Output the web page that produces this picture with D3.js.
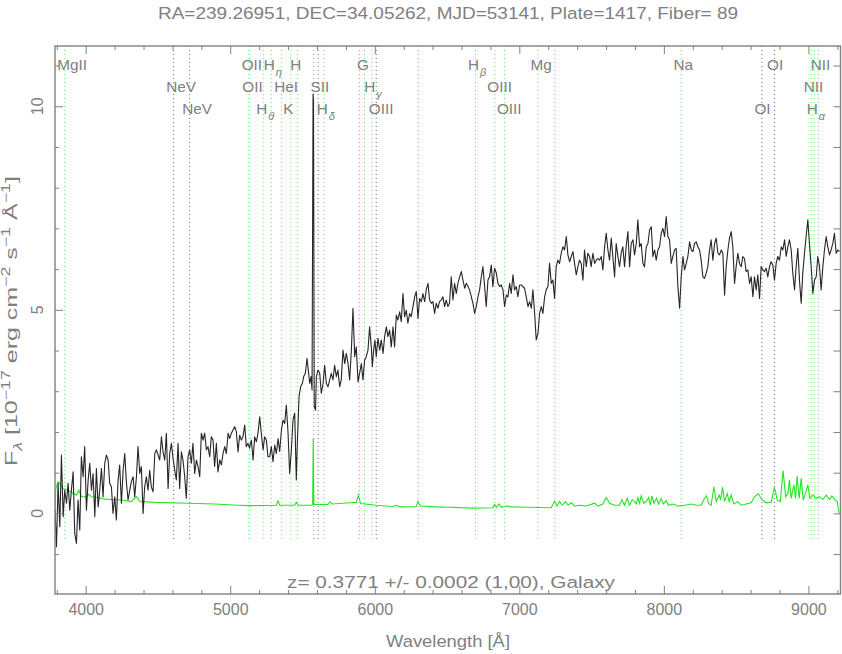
<!DOCTYPE html>
<html><head><meta charset="utf-8">
<script src="https://cdn.jsdelivr.net/npm/d3@7"></script>
<style>
body{margin:0;background:#fff;}
svg text{font-family:"Liberation Sans",Arial,sans-serif;fill:#808080;}
</style></head><body>
<svg id="chart" width="842" height="654"></svg>
<script>
// ---------- data ----------
const titleText = "RA=239.26951, DEC=34.05262, MJD=53141, Plate=1417, Fiber= 89";
const zText = "z= 0.3771 +/- 0.0002 (1,00), Galaxy";
const redshift = 0.3771;
const xTicks = [4000,5000,6000,7000,8000,9000];
const yTicks = [0,5,10];

const specWave = [3788,3798,3809,3821,3832,3844,3855,3867,3878,3890,3901,3913,3924,3936,3947,3959,3970,3982,3993,4005,
4017,4028,4040,4051,4063,4074,4086,4097,4109,4120,4132,4143,4155,4166,4178,4189,4201,4212,4224,4235,
4247,4259,4270,4282,4293,4305,4316,4328,4339,4351,4362,4374,4385,4397,4408,4420,4431,4443,4454,4466,
4478,4489,4501,4512,4524,4535,4547,4558,4570,4581,4593,4604,4616,4627,4639,4650,4662,4673,4685,4696,
4708,4719,4731,4742,4754,4766,4777,4789,4800,4812,4823,4835,4846,4858,4869,4881,4892,4904,4915,4927,
4939,4950,4962,4973,4985,4996,5008,5019,5031,5042,5054,5065,5077,5088,5100,5111,5123,5134,
5135,5146,5158,5169,5181,5192,5204,5215,5227,5238,5250,5261,5273,5284,5296,5308,5319,5331,5342,5354,
5365,5377,5388,5400,5411,5423,5434,5446,5457,5464,5476,5487,5499,5508,5520,5531,5540,5550,5559,5566,
5573,5576,5581,5590,5596,5607,5619,5630,5642,5653,5665,5676,5688,5699,5711,5722,5734,5745,5757,5768,
5780,5792,5803,5815,5826,5838,5849,5861,5872,5884,5895,5907,5918,5930,5941,5953,5964,5976,5983,5992,
6001,6010,6022,6034,6045,6057,6068,6080,6091,6103,6114,6126,6137,6149,6160,6172,6183,6195,6206,6218,
6229,6241,6252,6264,6276,6287,6299,6310,6322,6333,6345,6356,6368,6379,6391,6402,6414,6425,6437,6448,
6460,6471,6483,6494,6506,6517,
6529,6541,6552,6564,6575,6587,6599,6610,6622,6633,6645,6656,6668,6679,6691,6702,6714,6725,6737,6748,
6760,6771,6783,6794,6806,6817,6829,6841,6852,6864,6875,6887,6898,6910,6921,6933,6944,6956,6967,6979,
6990,7002,7013,7025,7036,7048,7060,7071,7083,7094,7106,7117,7129,7140,7152,7163,7175,7186,7198,7209,
7221,7232,7244,7255,7267,7278,7290,7302,7313,7325,7336,7348,7359,7371,7382,7394,7405,7417,7428,7440,
7451,7463,7474,7486,7497,7509,7521,7532,7544,7555,7567,7578,7590,7601,7613,7624,7636,7647,7659,7670,
7682,7693,7705,7716,7728,7739,7751,7763,7774,7786,
7797,7809,7820,7832,7843,7855,7866,7878,7890,7901,7913,7924,7936,7947,7959,7970,7982,7993,8005,8016,
8028,8039,8051,8062,8074,8085,8097,8109,8120,8132,8143,8155,8166,8178,8189,8201,8212,8224,8235,8247,
8258,8270,8281,8293,8304,8316,8327,8339,8351,8362,8374,8385,8397,8408,8420,8431,8443,8454,8466,8477,
8489,8500,8512,8523,8535,8546,8558,8569,8581,8593,8604,8616,8627,8639,8650,8662,8673,8685,8696,8708,
8719,8731,8742,8754,8765,8777,8788,8800,8812,8823,8835,8846,8858,8869,8881,8892,8904,8915,8927,8938,
8950,8961,8973,8984,8996,9007,9019,9031,9042,9054,9065,9077,9088,9100,9111,9123,9134,9146,9157,9169,
9180,9192,9203,9215];
const specFlux = [0.08,-0.82,0.74,-0.33,1.43,-0.08,0.57,0.25,0.74,0.08,0.57,1.02,-0.49,-0.74,0.33,-0.41,1.39,0.90,1.64,0.08,
0.82,1.23,0.57,0.98,-0.08,1.10,0.16,0.57,1.10,0.41,1.23,1.43,1.31,0.74,0.65,0.00,0.41,-0.16,0.82,1.19,
0.25,1.06,1.47,0.74,0.33,0.57,0.78,0.90,0.41,0.90,1.64,0.98,1.15,0.00,0.65,0.90,0.57,1.06,0.65,0.53,
1.47,1.56,1.43,1.31,1.88,1.51,1.31,1.97,0.61,1.47,1.72,1.35,1.06,0.82,1.72,0.61,1.51,1.31,0.90,0.37,
1.39,1.56,1.23,1.72,0.98,1.31,1.15,0.90,1.97,1.80,1.97,1.56,1.64,1.39,1.88,1.80,1.15,1.72,1.02,1.31,
1.19,1.47,1.64,1.47,1.97,1.84,1.97,2.05,2.13,2.01,1.51,1.92,1.80,1.88,2.17,1.64,1.72,1.60,
1.64,1.80,1.31,1.88,1.76,1.97,2.37,1.97,1.56,1.88,1.80,1.39,1.39,1.64,1.27,1.68,1.47,1.84,1.52,2.05,
2.29,2.21,2.66,1.97,0.98,1.56,2.29,2.46,0.82,1.72,2.87,3.11,3.19,3.36,3.44,3.81,3.52,3.19,3.36,3.03,
10.3,10.1,2.62,2.54,3.36,3.52,3.44,2.95,3.19,3.64,3.19,3.11,3.28,3.44,3.28,3.64,3.36,3.52,3.11,3.28,
4.01,3.68,3.93,3.68,3.28,4.01,5.04,3.85,4.09,3.23,3.44,3.68,3.28,3.77,3.85,4.01,4.58,4.09,3.60,4.01,
4.26,3.85,4.30,4.01,4.26,3.93,4.34,4.58,4.34,4.50,4.09,4.58,4.09,4.87,4.75,4.95,4.71,5.40,4.83,4.99,
4.67,4.91,4.83,5.08,5.32,5.45,4.79,5.28,5.20,5.40,5.20,5.49,5.65,5.24,5.16,5.20,4.91,5.16,5.04,5.20,
5.24,5.32,5.08,5.24,5.08,5.16,
5.81,5.24,5.65,5.40,5.65,5.81,5.94,5.73,5.53,5.65,5.57,5.49,5.32,5.16,4.91,5.08,5.32,5.49,5.81,6.06,
5.57,5.08,5.73,5.81,6.10,5.57,6.02,5.90,5.65,5.57,5.61,5.49,5.08,5.36,5.32,5.65,5.40,5.86,5.49,5.57,
5.32,5.61,5.61,5.57,5.53,5.32,5.08,5.20,5.04,5.49,4.91,4.26,4.42,4.91,5.08,4.91,5.32,5.49,5.57,6.14,
5.65,5.73,5.28,6.06,6.22,6.14,6.39,6.55,6.47,6.80,6.35,6.18,6.31,6.43,6.14,5.86,6.06,6.22,6.14,5.73,
6.47,6.06,6.39,6.31,6.06,6.39,6.14,6.22,6.26,6.22,6.31,5.98,6.55,6.88,6.47,6.22,6.76,6.31,5.81,6.63,
6.31,6.06,6.39,6.55,6.06,6.55,6.92,6.06,6.63,6.72,
6.35,6.63,7.21,6.55,6.63,6.14,6.06,6.55,6.63,6.96,7.04,6.31,6.47,6.22,6.47,6.55,6.88,7.00,6.80,7.29,
6.80,6.72,6.14,6.31,6.47,6.51,5.57,5.04,5.81,6.31,5.98,6.14,6.31,6.67,6.47,6.43,6.63,6.67,6.55,6.47,
6.22,5.81,5.77,5.90,6.06,6.47,6.72,6.22,6.63,6.76,6.39,6.35,6.47,6.39,5.36,6.06,6.47,6.76,6.92,6.55,
5.65,6.06,6.39,6.14,6.06,6.31,6.26,5.94,5.98,5.65,5.81,5.32,5.81,5.49,5.86,5.28,6.06,5.98,5.94,6.02,
5.81,6.06,6.18,6.10,5.73,6.14,6.31,6.22,6.55,6.47,6.72,6.31,6.55,6.72,6.47,5.90,5.49,6.06,6.51,5.73,
5.16,5.90,6.39,6.80,7.21,6.63,6.06,5.40,5.73,5.81,6.31,6.06,5.49,6.06,6.47,6.80,6.55,6.35,6.47,6.63,
6.88,6.39,6.47,6.43];

const errWave = [3788,3793,3809,3844,3878,3913,3936,3952,3970,4005,4017,4040,4086,4132,4247,4316,4351,4374,4478,4708,
4892,5054,5134,5319,5331,5342,5446,5457,5469,5561,5570,5574,5578,5676,5688,5706,5826,5872,5886,5902,
6010,6126,6149,6172,6287,6299,6315,6425,6517,6679,6817,6829,6841,6859,6875,6910,6944,7048,7221,7244,
7260,7278,7297,7320,7338,7361,7382,7417,7463,7521,7544,7578,7601,7624,7659,7693,7709,7728,7746,7763,
7781,7797,7809,7820,7832,7843,7860,7878,7894,7906,7917,7931,7949,7963,7982,7996,8016,8032,8062,8097,
8143,8189,8224,8258,8281,8295,8309,8327,8346,8362,8383,8392,8406,8420,8438,8452,8466,8484,8512,8535,
8569,8604,8627,8655,8678,8708,8742,8765,8784,8805,8825,8842,8858,8869,8881,8899,8911,8922,8936,8950,
8964,8980,8996,9010,9031,9054,9077,9100,9123,9146,9162,9185,9199,9213];
const errFlux = [0.00,0.61,0.78,0.61,0.57,0.49,0.45,0.57,0.41,0.41,0.47,0.41,0.39,0.35,0.33,0.29,0.41,0.30,0.27,0.25,
0.23,0.20,0.19,0.20,0.31,0.20,0.20,0.27,0.20,0.20,0.21,1.84,0.22,0.22,0.28,0.23,0.26,0.27,0.45,0.24,
0.20,0.17,0.20,0.16,0.17,0.30,0.18,0.16,0.15,0.13,0.14,0.22,0.15,0.23,0.15,0.18,0.16,0.15,0.14,0.30,
0.18,0.29,0.20,0.29,0.20,0.26,0.18,0.20,0.18,0.25,0.18,0.23,0.39,0.25,0.20,0.20,0.34,0.20,0.37,0.20,
0.34,0.29,0.23,0.39,0.25,0.43,0.25,0.29,0.39,0.20,0.43,0.25,0.37,0.23,0.37,0.23,0.31,0.20,0.23,0.18,
0.20,0.23,0.20,0.20,0.37,0.43,0.25,0.20,0.65,0.29,0.45,0.33,0.64,0.29,0.49,0.29,0.45,0.23,0.29,0.20,
0.23,0.26,0.41,0.48,0.33,0.26,0.28,0.64,0.33,0.29,1.05,0.41,0.49,0.82,0.37,0.70,0.37,0.92,0.37,0.86,
0.33,0.49,0.70,0.37,0.45,0.37,0.41,0.34,0.45,0.34,0.43,0.33,0.29,0.00];

// spectral line markers (rest wavelengths, label, label row, colour class)
const lineLabel = ["MgII","NeV","NeV","OII","OII","H_θ","H_η","HeI","K","H","SII","H_δ","G","H_γ","OIII","H_β","OIII","OIII","Mg","Na","OI","OI","NII","H_α","NII"];
const lineRest  = [2799.49,3346.79,3426.85,3726.03,3728.82,3798.98,3836.47,3889.0,3934.78,3969.59,4072.3,4102.89,4305.61,4341.68,4364.44,4862.68,4960.30,5008.24,5176.7,5895.6,6302.05,6365.54,6549.86,6564.61,6585.27];
const lineRow   = [0,1,2,0,1,2,0,1,2,0,1,2,0,1,2,0,1,2,0,0,2,0,1,2,0];
const lineKind  = ["g","k","k","g","g","g","g","g","g","g","k","g","g","g","k","g","g","g","g","g","k","k","g","g","g"];
const skyWave   = [5577,5893,6300,7246];
const markerBottom = -0.65;

// ---------- drawing ----------
const svg = d3.select("#chart");
const X0=55, X1=840.5, Y0=46, Y1=594;
const x = d3.scaleLinear().domain([3787.6, 9222]).range([X0, X1]);
const y = d3.scaleLinear().domain([-1.98, 11.48]).range([Y1, Y0]);
const AX = "#808080";
const kindColor = {g:"#55f055", k:"#6a6a6a"};

svg.append("defs").append("clipPath").attr("id","clip")
  .append("rect").attr("x",X0).attr("y",Y0).attr("width",X1-X0).attr("height",Y1-Y0);
const plot = svg.append("g").attr("clip-path","url(#clip)");

// sky lines
plot.selectAll(".sky").data(skyWave).join("line")
  .attr("x1",d=>x(d)).attr("x2",d=>x(d)).attr("y1",Y0).attr("y2",y(markerBottom))
  .attr("stroke","#ff66ff").attr("stroke-width",1).attr("stroke-dasharray","1,3");
// identified lines
const lineIdx = d3.range(lineRest.length);
plot.selectAll(".ln").data(lineIdx).join("line")
  .attr("x1",i=>x(lineRest[i]*(1+redshift))).attr("x2",i=>x(lineRest[i]*(1+redshift)))
  .attr("y1",Y0).attr("y2",y(markerBottom))
  .attr("stroke",i=>kindColor[lineKind[i]]).attr("stroke-width",1).attr("stroke-dasharray","1,3");

// error spectrum (green)
const errLine = d3.line().x(i=>x(errWave[i])).y(i=>y(errFlux[i]));
plot.append("path").attr("d",errLine(d3.range(errWave.length)))
  .attr("fill","none").attr("stroke","#22e622").attr("stroke-width",1.1);
// flux spectrum (black)
const specLine = d3.line().x(i=>x(specWave[i])).y(i=>y(specFlux[i]));
plot.append("path").attr("d",specLine(d3.range(specWave.length)))
  .attr("fill","none").attr("stroke","#262626").attr("stroke-width",1.1).attr("stroke-linejoin","round");

// line labels
const rowBase = [69.5, 91.5, 113.5];
const lab = svg.selectAll(".lab").data(lineIdx).join("text")
  .attr("x",i=>x(lineRest[i]*(1+redshift))-7.5).attr("y",i=>rowBase[lineRow[i]])
  .style("font-size","15.3px");
lab.each(function(i){
  const t = d3.select(this); const parts = lineLabel[i].split("_");
  t.append("tspan").text(parts[0]);
  if(parts.length>1) t.append("tspan").attr("dy",6).style("font-size","11px").style("font-style","italic").attr("dx",1).text(parts[1]);
});

// axes
function clean(g){ g.select(".domain").remove(); g.selectAll("line").attr("stroke",AX); }
const minorX = d3.range(3800, 9201, 200).filter(v=>v%1000!==0);
const minorY = d3.range(-1, 12, 1).filter(v=>v%5!==0);
svg.append("g").attr("transform",`translate(0,${Y1})`)
  .call(d3.axisBottom(x).tickValues(minorX).tickSizeInner(-4).tickSizeOuter(0).tickFormat("")).call(clean);
const bx = svg.append("g").attr("transform",`translate(0,${Y1})`)
  .call(d3.axisBottom(x).tickValues(xTicks).tickSizeInner(-8).tickSizeOuter(0).tickPadding(10).tickFormat(d3.format("d"))).call(clean);
bx.selectAll("text").attr("font-family",null).attr("font-size",null).style("font-size","16px").attr("dy","0.71em");
svg.append("g").attr("transform",`translate(0,${Y0})`)
  .call(d3.axisTop(x).tickValues(minorX).tickSizeInner(-4).tickSizeOuter(0).tickFormat("")).call(clean);
svg.append("g").attr("transform",`translate(0,${Y0})`)
  .call(d3.axisTop(x).tickValues(xTicks).tickSizeInner(-8).tickSizeOuter(0).tickFormat("")).call(clean);
svg.append("g").attr("transform",`translate(${X0},0)`)
  .call(d3.axisLeft(y).tickValues(minorY).tickSizeInner(-4).tickSizeOuter(0).tickFormat("")).call(clean);
svg.append("g").attr("transform",`translate(${X0},0)`)
  .call(d3.axisLeft(y).tickValues(yTicks).tickSizeInner(-8).tickSizeOuter(0).tickFormat("")).call(clean);
svg.append("g").attr("transform",`translate(${X1},0)`)
  .call(d3.axisRight(y).tickValues(d3.range(-1,12,1)).tickSizeInner(-7).tickSizeOuter(0).tickFormat("")).call(clean);
svg.append("rect").attr("x",X0).attr("y",Y0).attr("width",X1-X0).attr("height",Y1-Y0)
  .attr("fill","none").attr("stroke",AX).attr("stroke-width",1.4);

// y tick labels (rotated)
svg.selectAll(".ytl").data(yTicks).join("text")
  .attr("transform",d=>`translate(43,${y(d)}) rotate(-90)`)
  .attr("text-anchor","middle").style("font-size","16px").text(d=>d);

// title
svg.append("text").attr("x",448).attr("y",19).attr("text-anchor","middle")
  .style("font-size","16.8px").attr("textLength",580).attr("lengthAdjust","spacingAndGlyphs").text(titleText);
// redshift text
svg.append("text").attr("x",451).attr("y",588).attr("text-anchor","middle")
  .style("font-size","16.8px").attr("textLength",328).attr("lengthAdjust","spacingAndGlyphs").text(zText);
// x label
svg.append("text").attr("x",448).attr("y",647).attr("text-anchor","middle")
  .style("font-size","16.8px").attr("textLength",124).attr("lengthAdjust","spacingAndGlyphs").text("Wavelength [Å]");
// y label
const yl = svg.append("text").attr("transform","translate(17,321) rotate(-90)")
  .attr("text-anchor","middle").style("font-size","16.8px")
  .attr("textLength",290).attr("lengthAdjust","spacingAndGlyphs");
yl.append("tspan").text("F");
yl.append("tspan").attr("dy",5).style("font-size","12px").style("font-style","italic").text("λ");
yl.append("tspan").attr("dy",-5).text(" [10");
yl.append("tspan").attr("dy",-7).style("font-size","12px").text("−17");
yl.append("tspan").attr("dy",7).text(" erg cm");
yl.append("tspan").attr("dy",-7).style("font-size","12px").text("−2");
yl.append("tspan").attr("dy",7).text(" s");
yl.append("tspan").attr("dy",-7).style("font-size","12px").text("−1");
yl.append("tspan").attr("dy",7).text(" Å");
yl.append("tspan").attr("dy",-7).style("font-size","12px").text("−1");
yl.append("tspan").attr("dy",7).text("]");
</script>
</body></html>
